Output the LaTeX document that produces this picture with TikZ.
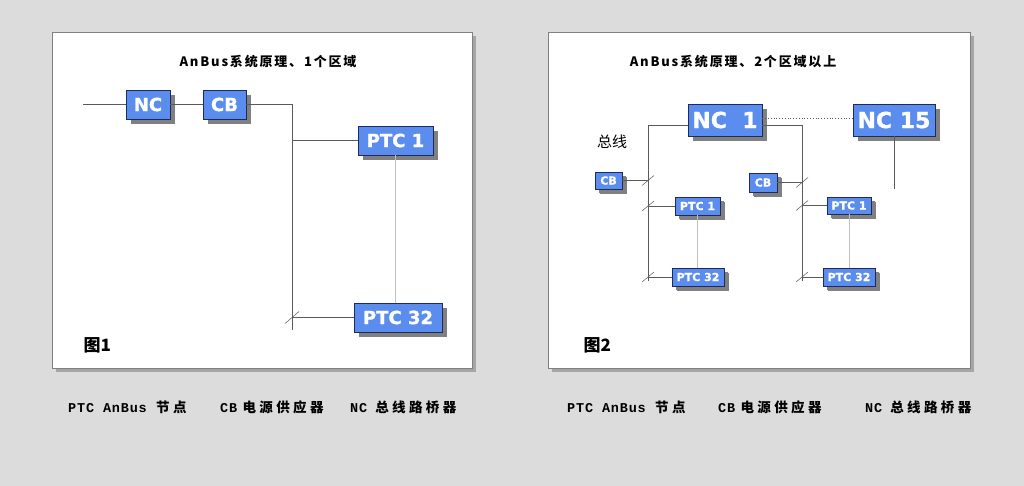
\documentclass[tikz,border=0pt]{standalone}
\usepackage{fontspec}
\setsansfont{Liberation Sans}
\newfontfamily\cjk{Noto Sans CJK SC}
\newfontfamily\cjkwide{Noto Sans CJK SC}[LetterSpace=14]
\newfontfamily\cjkleg{Noto Sans CJK SC}[LetterSpace=25]
\newfontfamily\legmono{Liberation Mono}[LetterSpace=6]
\newfontfamily\boxfont{DejaVu Sans Bold}[FakeBold=1.2]
\usetikzlibrary{positioning,shadows}
\definecolor{pagegray}{HTML}{DCDCDC}
\definecolor{unitblue}{HTML}{5B8DEE}
\definecolor{unitedge}{HTML}{1E2A5A}
\definecolor{shadegray}{HTML}{808080}
\definecolor{busgray}{HTML}{5A5A5A}
\definecolor{linkgray}{HTML}{C0C0C0}
\tikzset{
  panel/.style={draw=shadegray, fill=white, line width=0.8pt},
  unit/.style={draw=unitedge, fill=unitblue, text=white, inner sep=0pt, line width=0.8pt,
    drop shadow={shadow xshift=5pt, shadow yshift=-5pt, fill=shadegray, opacity=1}},
  bigunit/.style={unit, font=\boxfont\fontsize{18}{20}\selectfont},
  smallunit/.style={unit, font=\boxfont\fontsize{11}{13}\selectfont,
    drop shadow={shadow xshift=4pt, shadow yshift=-4pt, fill=shadegray, opacity=1}},
  bus/.style={draw=busgray, line width=0.8pt},
  link/.style={draw=linkgray, line width=1pt},
  tap/.style={draw=busgray, line width=0.5pt},
  title/.style={font=\cjkwide\bfseries\fontsize{13}{15}\selectfont},
  legend/.style={anchor=west, inner sep=0pt, font=\bfseries\fontsize{13.5}{15}\selectfont}
}
\begin{document}
\begin{tikzpicture}[x=1pt, y=-1pt]
\useasboundingbox (0,0) rectangle (1024,486);
\fill[pagegray] (0,0) rectangle (1024,486);

% panels
\fill[shadegray!70] (56,36) rectangle (476,372);
\draw[panel] (52,32) rectangle (472,368);
\fill[shadegray!70] (552,36) rectangle (974,372);
\draw[panel] (548,32) rectangle (970,368);

% ---- figure 1: one zone
\node[title] (title1) at (268,62) {AnBus系统原理、1个区域};
\node[bigunit, minimum width=44pt, minimum height=29pt] (nc) at (148,104.5) {NC};
\node[bigunit, minimum width=43pt, minimum height=29pt] (cb) at (224.5,104.5) {CB};
\node[bigunit, minimum width=75pt, minimum height=29pt] (ptcA) at (395.5,140.5) {PTC 1};
\node[bigunit, minimum width=88pt, minimum height=29pt] (ptcB) at (398,317.5) {PTC 32};
\coordinate (feed) at (83,104.5);
\coordinate (busTop) at (292,104.5);
\coordinate (busEnd) at (292,330);

\draw[bus] (feed) -- (nc);
\draw[bus] (nc) -- (cb);
\draw[bus] (cb) -- (busTop) -- (busEnd);
\draw[bus] (busTop |- ptcA.west) -- (ptcA);
\draw[bus] (busTop |- ptcB.west) -- (ptcB);
\draw[tap] (busTop |- ptcB.west) ++(-7,6) -- ++(14,-12);
\draw[link] (ptcA) -- (ptcA.south |- ptcB.north);

\node[anchor=west, font=\cjk\bfseries\fontsize{17}{19}\selectfont] (fig1) at (80,345) {图1};

% ---- figure 2: two zones and more
\node[title] (title2) at (733,62) {AnBus系统原理、2个区域以上};
\node[unit, minimum width=74pt, minimum height=32pt, font=\boxfont\fontsize{22}{25}\selectfont] (ncOne) at (725,120) {NC\hspace{0.7em}1};
\node[unit, minimum width=82pt, minimum height=32pt, font=\boxfont\fontsize{22}{25}\selectfont] (ncLast) at (894,120) {NC 15};

\node[smallunit, minimum width=27pt, minimum height=17pt] (cbL) at (608.5,180.5) {CB};
\node[smallunit, minimum width=45pt, minimum height=18pt] (ptcLA) at (697.5,206) {PTC 1};
\node[smallunit, minimum width=52pt, minimum height=18pt] (ptcLB) at (698,277) {PTC 32};

\node[smallunit, minimum width=28pt, minimum height=19pt] (cbR) at (763,182.5) {CB};
\node[smallunit, minimum width=44pt, minimum height=17pt] (ptcRA) at (849,205.5) {PTC 1};
\node[smallunit, minimum width=52pt, minimum height=18pt] (ptcRB) at (849,277) {PTC 32};

\node[font=\cjk\fontsize{15}{17}\selectfont] (busword) at (612,142) {总线};

\coordinate (busLTop) at (648,125);
\coordinate (busLEnd) at (648,281);
\coordinate (busRTop) at (802,125);
\coordinate (busREnd) at (802,281);

\draw[dotted, draw=busgray, line width=0.8pt] ([yshift=2pt]ncOne.east) -- ([yshift=2pt]ncLast.west);
\draw[bus] (ncOne.west |- busLTop) -- (busLTop) -- (busLEnd);
\draw[bus] (ncOne.east |- busRTop) -- (busRTop) -- (busREnd);
\draw[bus] (ncLast.south) -- ++(0,53);

\draw[bus] (cbL) -- (busLTop |- cbL.east);
\draw[bus] (ptcLA) -- (busLTop |- ptcLA.west);
\draw[bus] (ptcLB) -- (busLTop |- ptcLB.west);
\draw[bus] (cbR) -- (busRTop |- cbR.east);
\draw[bus] (ptcRA) -- (busRTop |- ptcRA.west);
\draw[bus] (ptcRB) -- (busRTop |- ptcRB.west);

\draw[tap] (busLTop |- cbL.east) ++(-6,5) -- ++(12,-10);
\draw[tap] (busLTop |- ptcLA.west) ++(-6,5) -- ++(12,-10);
\draw[tap] (busLTop |- ptcLB.west) ++(-6,5) -- ++(12,-10);
\draw[tap] (busRTop |- cbR.east) ++(-6,5) -- ++(12,-10);
\draw[tap] (busRTop |- ptcRA.west) ++(-6,5) -- ++(12,-10);
\draw[tap] (busRTop |- ptcRB.west) ++(-6,5) -- ++(12,-10);

\draw[link] (ptcLA) -- (ptcLA.south |- ptcLB.north);
\draw[link] (ptcRA) -- (ptcRA.south |- ptcRB.north);

\node[anchor=west, font=\cjk\bfseries\fontsize{17}{19}\selectfont] (fig2) at (580,345) {图2};

% ---- legends
\node[legend] (legPtc1) at (68,407) {{\legmono PTC AnBus}\hspace{0.7em}{\cjkleg 节点}};
\node[legend] (legCb1) at (220,407) {{\legmono CB}\hspace{0.4em}{\cjkleg 电源供应器}};
\node[legend] (legNc1) at (350,407) {{\legmono NC}\hspace{0.6em}{\cjkleg 总线路桥器}};
\node[legend] (legPtc2) at (567,407) {{\legmono PTC AnBus}\hspace{0.7em}{\cjkleg 节点}};
\node[legend] (legCb2) at (718,407) {{\legmono CB}\hspace{0.4em}{\cjkleg 电源供应器}};
\node[legend] (legNc2) at (865,407) {{\legmono NC}\hspace{0.6em}{\cjkleg 总线路桥器}};
\end{tikzpicture}
\end{document}
